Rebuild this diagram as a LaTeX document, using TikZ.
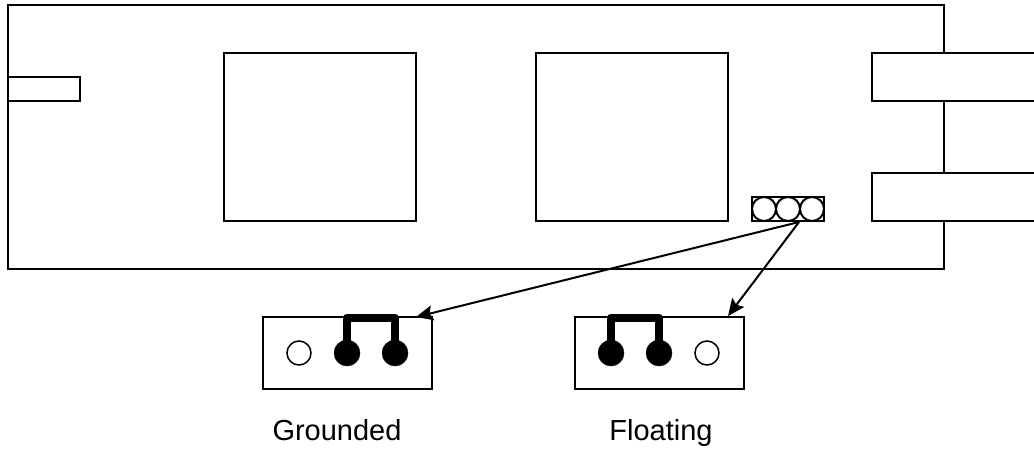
\documentclass[tikz,border=0pt]{standalone}
\usepackage{fontspec}
\setmainfont{Liberation Sans}
\usetikzlibrary{arrows.meta}
\tikzset{
  x=1pt,y=-1pt,
  outline/.style={draw=black,line width=2pt,fill=white,rectangle,inner sep=0pt,outer sep=0pt},
  openpin/.style={draw=black,line width=1.5pt,fill=white,circle,inner sep=0pt,outer sep=0pt,minimum size=24pt},
  headpin/.style={draw=black,line width=2pt,fill=white,circle,inner sep=0pt,outer sep=0pt,minimum size=24pt},
  fullpin/.style={draw=black,fill=black,circle,inner sep=0pt,outer sep=0pt,minimum size=26pt},
  jumper/.style={draw=black,line width=8pt,line join=round,line cap=butt},
  pointer/.style={draw=black,line width=2pt,-{Stealth[length=17pt,width=15pt,inset=3pt]}},
  caption/.style={font=\fontsize{29pt}{32pt}\selectfont,inner sep=0pt,anchor=base}
}
\begin{document}
\begin{tikzpicture}
\useasboundingbox (0,0) rectangle (1034,448);
\clip (0,0) rectangle (1034,448);
\fill[white] (0,0) rectangle (1034,448);
\node[outline,minimum width=936.5pt,minimum height=263.5pt] (board) at (475.75,136.75) {};
\node[outline,minimum width=72.5pt,minimum height=24pt] (port) at (43.75,89) {};
\node[outline,minimum width=192.5pt,minimum height=168pt] (chipa) at (319.75,137) {};
\node[outline,minimum width=192.5pt,minimum height=168pt] (chipb) at (631.75,137) {};
\node[outline,minimum width=178pt,minimum height=48pt] (conna) at (961,77) {};
\node[outline,minimum width=178pt,minimum height=48pt] (connb) at (961,197) {};
\node[outline,minimum width=72pt,minimum height=24pt] (header) at (788,209) {};
\node[headpin] (ha) at (764,209) {};
\node[headpin] (hb) at (788,209) {};
\node[headpin] (hc) at (812,209) {};
\node[outline,minimum width=168.5pt,minimum height=72pt] (gnd) at (347.25,353) {};
\node[outline,minimum width=168.5pt,minimum height=72pt] (flt) at (659.25,353) {};
\node[openpin] (ga) at (299,353) {};
\node[fullpin] (gb) at (347,353) {};
\node[fullpin] (gc) at (395,353) {};
\node[fullpin] (fa) at (611,353) {};
\node[fullpin] (fb) at (659,353) {};
\node[openpin] (fc) at (707,353) {};
\draw[jumper] (gb.center) -- (347,317.5) -- (395,317.5) -- (gc.center);
\draw[jumper] (fa.center) -- (611,317.5) -- (659,317.5) -- (fb.center);
\coordinate (src) at (799,222);
\coordinate (gndtip) at (416,317);
\coordinate (flttip) at (728,316);
\draw[pointer] (src) -- (gndtip);
\draw[pointer] (src) -- (flttip);
\node[caption] (lg) at (337,440) {Grounded};
\node[caption] (lf) at (661,440) {Floating};
\end{tikzpicture}
\end{document}
